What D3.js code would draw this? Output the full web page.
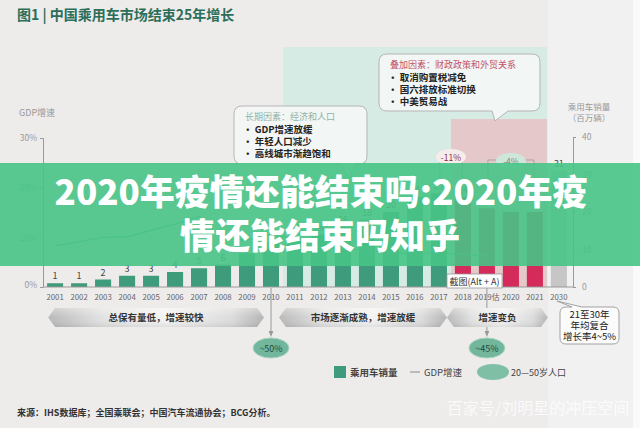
<!DOCTYPE html>
<html><head><meta charset="utf-8">
<script src="https://cdn.jsdelivr.net/npm/d3@7/dist/d3.min.js"></script>
<style>
html,body{margin:0;padding:0;background:#fff;}
svg{display:block;font-family:"Noto Sans CJK SC","Noto Sans",sans-serif;}
</style></head><body>
<svg id="c" width="640" height="428"></svg>
<script>
// ---- data ----
const years = ["2001","2002","2003","2004","2005","2006","2007","2008","2009","2010","2011","2012","2013","2014","2015","2016","2017","2018","2019估","2020","2021","2030"];
const sales = [1,1,2,3,3,4,5,6,9,12,13,14,16,18,20,24,25,24,21,20,20,31];
const salesLabelShown = [1,1,1,1,1,1,1,1,0,0,0,1,1,1,1,1,1,1,0,0,0,1];
const gdpYears = ["2001","2002","2003","2004","2005","2006","2007","2008","2009","2010","2011","2012","2013","2014","2015","2016","2017","2018","2019估"];
const gdp = [8.3,9.1,10.0,10.1,11.4,12.7,14.2,9.7,9.4,10.6,9.6,7.9,7.8,7.3,6.9,6.7,6.9,6.6,6.2];
const gdpTicks = [0,10,20,30];
const salesTicks = [0,10,20,30,40];
const phases = [
  {label:"总保有量低，增速较快", from:"2001", to:"2010"},
  {label:"市场逐渐成熟，增速放缓", from:"2011", to:"2017"},
  {label:"增速变负", from:"2018", to:"2021"}
];
const popDrops = [{year:"2010", label:"~50%"},{year:"2019估", label:"~45%"}];
const changes = [{from:"2017", to:"2018", label:"-11%"},{from:"2019估", to:"2021", label:"-4%"}];
const longTerm = {head:"长期因素：经济和人口", items:["GDP增速放缓","年轻人口减少","高线城市渐趋饱和"]};
const extra = {head:"叠加因素：财政政策和外贸关系", items:["取消购置税减免","国六排放标准切换","中美贸易战"]};
const cagrNote = ["21至30年","年均复合","增长率4~5%"];

// ---- setup ----
const svg = d3.select("#c");
const W = 640, H = 428;
const x = d3.scaleBand().domain(years).range([43,571]).paddingInner(0.33).paddingOuter(0.17);
const step = x.step();
const cx = d => x(d) + x.bandwidth()/2;
const bandStart = d => x(d) - step*x.paddingInner()/2;
const yS = d3.scaleLinear().domain([0,40]).range([287,137]);
const yG = d3.scaleLinear().domain([0,30]).range([287,138]);

const defs = svg.append("defs");
const g1 = defs.append("linearGradient").attr("id","chev").attr("x1","0").attr("x2","1").attr("y1","0").attr("y2","0");
[[0,"#b9b9b9"],[0.25,"#e2e2e2"],[0.55,"#f3f3f3"],[0.85,"#dcdcdc"],[1,"#b5b5b5"]].forEach(s=>g1.append("stop").attr("offset",s[0]).attr("stop-color",s[1]));
const g2 = defs.append("linearGradient").attr("id","chevv").attr("x1","0").attr("x2","0").attr("y1","0").attr("y2","1");
[[0,"#ffffff",0.35],[0.5,"#ffffff",0],[1,"#000000",0.08]].forEach(s=>g2.append("stop").attr("offset",s[0]).attr("stop-color",s[1]).attr("stop-opacity",s[2]));
defs.append("marker").attr("id","arr").attr("viewBox","0 0 10 10").attr("refX",5).attr("refY",5)
  .attr("markerWidth",6).attr("markerHeight",6).attr("orient","auto")
  .append("path").attr("d","M0,1 L10,5 L0,9 z").attr("fill","#999");

// background
svg.append("rect").attr("width",W).attr("height",H).attr("fill","#eeebeb");
svg.append("rect").attr("x",x("2030")-step*0.12).attr("y",0).attr("width",633-(x("2030")-step*0.12)).attr("height",H).attr("fill","#f2f1f1");
svg.append("rect").attr("x",633).attr("y",0).attr("width",7).attr("height",H).attr("fill","#fafafa");
// shaded regions
svg.append("rect").attr("x",bandStart("2011")).attr("y",47).attr("width",bandStart("2030")-bandStart("2011")).attr("height",yS(0)-47).attr("fill","#d6ebe4");
svg.append("rect").attr("x",bandStart("2018")).attr("y",119).attr("width",bandStart("2030")-bandStart("2018")).attr("height",yS(0)-119).attr("fill","#e4c8ca");

// title
svg.append("text").attr("x",17).attr("y",20).attr("font-size",14).attr("font-weight","bold").attr("fill","#2b6f5a").text("图1 | 中国乘用车市场结束25年增长");

// axes
const axL = svg.append("g").attr("transform","translate(43,0)")
  .call(d3.axisLeft(yG).tickValues(gdpTicks).tickSize(3).tickPadding(3).tickFormat(d=>d+"%"));
const axR = svg.append("g").attr("transform","translate(573,0)")
  .call(d3.axisRight(yS).tickValues(salesTicks).tickSize(3).tickPadding(6));
[axL,axR].forEach(a=>{a.select(".domain").attr("stroke","#999");a.selectAll(".tick line").attr("stroke","#999");
  a.selectAll(".tick text").attr("fill","#999").attr("font-size",8.5).attr("font-family","'Noto Sans CJK SC',sans-serif");});
axL.select(".tick:first-of-type text").attr("dy","0.1em");
svg.append("text").attr("x",19).attr("y",116).attr("font-size",9).attr("fill","#999").text("GDP增速");
svg.append("text").attr("x",589).attr("y",110).attr("text-anchor","middle").attr("font-size",8.5).attr("fill","#999").text("乘用车销量");
svg.append("text").attr("x",589).attr("y",121).attr("text-anchor","middle").attr("font-size",8.5).attr("fill","#999").text("（百万辆）");

// bars
const barColor = d => d==="2030" ? "#c6c6c6" : (years.indexOf(d) >= years.indexOf("2018") ? "#d52b5b" : "#3e9b7b");
svg.append("g").selectAll("rect").data(years).join("rect")
  .attr("x",d=>x(d)).attr("width",x.bandwidth())
  .attr("y",(d,i)=>yS(sales[i])).attr("height",(d,i)=>yS(0)-yS(sales[i]))
  .attr("fill",barColor);
svg.append("g").selectAll("text").data(years.filter((d,i)=>salesLabelShown[i])).join("text")
  .attr("x",d=>cx(d)).attr("y",d=>yS(sales[years.indexOf(d)])-4)
  .attr("text-anchor","middle").attr("font-size",9).attr("fill","#444").text(d=>sales[years.indexOf(d)]);

// x axis line and labels
svg.append("line").attr("x1",43).attr("x2",573).attr("y1",yS(0)).attr("y2",yS(0)).attr("stroke","#999");
svg.append("g").selectAll("text").data(years).join("text")
  .attr("x",d=>cx(d)).attr("y",300).attr("text-anchor","middle").attr("font-size",7.8)
  .attr("fill","#666").text(d=>d);

// GDP line
svg.append("path").datum(gdp).attr("fill","none").attr("stroke","#5aa88a").attr("stroke-width",1.1)
  .attr("d",d3.line().x((d,i)=>cx(gdpYears[i])).y(d=>yG(d)));

// change brackets
changes.forEach(c=>{
  const x1 = cx(c.from)+1, x2 = cx(c.to)-1, yb = c.label==="-11%"?156:160;
  svg.append("path").attr("d",`M${x1},${yb+40} V${yb} H${x2} V${yb+40}`).attr("fill","none").attr("stroke","#999").attr("stroke-width",0.8);
  const mx = (x1+x2)/2;
  svg.append("ellipse").attr("cx",mx).attr("cy",yb+1).attr("rx",15).attr("ry",8)
    .attr("fill",c.label==="-11%"?"#f5ecec":"#cfe7db");
  svg.append("text").attr("x",mx).attr("y",yb+4.5).attr("text-anchor","middle").attr("font-size",8.5)
    .attr("fill",c.label==="-11%"?"#8a3040":"#7a8a80").text(c.label);
});

// callouts
function bubble(x0,y0,w,h,tipX,tipY,baseX,data,headColor){
  const r=8;
  const p = `M${x0+r},${y0} H${x0+w-r} Q${x0+w},${y0} ${x0+w},${y0+r} V${y0+h-r} Q${x0+w},${y0+h} ${x0+w-r},${y0+h}`+
    ` H${baseX+8} L${tipX},${tipY} L${baseX-8},${y0+h} H${x0+r} Q${x0},${y0+h} ${x0},${y0+h-r} V${y0+r} Q${x0},${y0} ${x0+r},${y0} Z`;
  svg.append("path").attr("d",p).attr("fill","#f4f6f5").attr("fill-opacity",0.92).attr("stroke","#b5b5b5").attr("stroke-width",1);
  svg.append("text").attr("x",x0+11).attr("y",y0+14).attr("font-size",9).attr("fill",headColor).text(data.head);
  data.items.forEach((t,i)=>{
    svg.append("text").attr("x",x0+9).attr("y",y0+27+i*12).attr("font-size",9.5).attr("font-weight","bold").attr("fill","#222").text("• "+t);
  });
}
bubble(234,106,133,58,350,178,347,longTerm,"#8fb3a8");
bubble(379,54,161,57,495,121,500,extra,"#c25268");

// population drop arrows
popDrops.forEach(p=>{
  const px = cx(p.year);
  svg.append("line").attr("x1",px).attr("x2",px).attr("y1",yS(0)+1).attr("y2",334).attr("stroke","#999").attr("stroke-width",1).attr("marker-end","url(#arr)");
});

// phases
phases.forEach((ph,i)=>{
  let x0, x1;
  if(i===0){x0=bandStart(ph.from)+5; x1=cx(ph.to)-7;}
  else {x0=cx(years[years.indexOf(ph.from)-1])+8; x1=cx(ph.to)+ (i===1?8:13);}
  const y0=308,y1=327,m=(y0+y1)/2,d=7;
  const pts=[[x0,m],[x0+d,y0],[x1-d,y0],[x1,m],[x1-d,y1],[x0+d,y1]];
  svg.append("polygon").attr("points",pts.map(p=>p.join(",")).join(" ")).attr("fill","url(#chev)");
  svg.append("polygon").attr("points",pts.map(p=>p.join(",")).join(" ")).attr("fill","url(#chevv)");
  svg.append("text").attr("x",(x0+x1)/2).attr("y",m+3.5).attr("text-anchor","middle").attr("font-size",9.5).attr("font-weight","bold").attr("fill","#333").text(ph.label);
});

popDrops.forEach(p=>{
  const px = cx(p.year);
  svg.append("ellipse").attr("cx",px).attr("cy",348).attr("rx",18).attr("ry",10).attr("fill","#72b79c").attr("stroke","#a9d3c2").attr("stroke-width",1);
  svg.append("text").attr("x",px).attr("y",351.5).attr("text-anchor","middle").attr("font-size",9).attr("fill","#1e4a3c").text(p.label);
});

// CAGR note box
{
  const bx=560,by=307,bw=59,bh=37,tx=cx("2030");
  const p=`M${bx+12},${by} L${tx-2},${301} L${bx+22},${by} H${bx+bw-6} Q${bx+bw},${by} ${bx+bw},${by+6} V${by+bh-6} Q${bx+bw},${by+bh} ${bx+bw-6},${by+bh} H${bx+6} Q${bx},${by+bh} ${bx},${by+bh-6} V${by+6} Q${bx},${by} ${bx+6},${by} Z`;
  svg.append("path").attr("d",p).attr("fill","#fbfbfb").attr("stroke","#999").attr("stroke-width",0.9);
  cagrNote.forEach((t,i)=>svg.append("text").attr("x",bx+bw/2).attr("y",by+11+i*11).attr("text-anchor","middle")
    .attr("font-size",9.5).attr("fill","#222").text(t));
}

// legend
svg.append("rect").attr("x",334).attr("y",366).attr("width",12).attr("height",12).attr("fill","#3e9b7b");
svg.append("text").attr("x",350).attr("y",375.5).attr("font-size",9.5).attr("font-weight","bold").attr("fill","#444").text("乘用车销量");
svg.append("line").attr("x1",410).attr("x2",420).attr("y1",372).attr("y2",372).attr("stroke","#888");
svg.append("text").attr("x",424).attr("y",375.5).attr("font-size",9.5).attr("fill","#444").text("GDP增速");
svg.append("ellipse").attr("cx",493).attr("cy",372).attr("rx",16).attr("ry",8).attr("fill","#7fbfa6");
svg.append("text").attr("x",511).attr("y",375.5).attr("font-size",9).attr("fill","#444").text("20—50岁人口");

// source
svg.append("text").attr("x",17).attr("y",416).attr("font-size",9).attr("font-weight","bold").attr("fill","#333").text("来源：IHS数据库；全国乘联会；中国汽车流通协会；BCG分析。");

// screenshot tooltip
svg.append("rect").attr("x",447).attr("y",274).attr("width",55).attr("height",14).attr("fill","#fff").attr("stroke","#999").attr("stroke-width",0.8);
svg.append("text").attr("x",474.5).attr("y",284.5).attr("text-anchor","middle").attr("font-size",9).attr("fill","#333").text("截图(Alt + A)");

// banner overlay
svg.append("rect").attr("x",0).attr("y",163).attr("width",W).attr("height",103).attr("fill","#47c486").attr("fill-opacity",0.9);
svg.append("text").attr("x",321).attr("y",205).attr("text-anchor","middle").attr("font-size",35).attr("font-weight",900).attr("fill","#fff").text("2020年疫情还能结束吗:2020年疫");
svg.append("text").attr("x",320).attr("y",249).attr("text-anchor","middle").attr("font-size",35).attr("font-weight",900).attr("fill","#fff").text("情还能结束吗知乎");

// watermark
svg.append("text").attr("x",538).attr("y",414).attr("text-anchor","middle").attr("font-size",16).attr("fill","#fff").attr("fill-opacity",0.75).text("百家号/刘明星的冲压空间");
</script>
</body></html>
